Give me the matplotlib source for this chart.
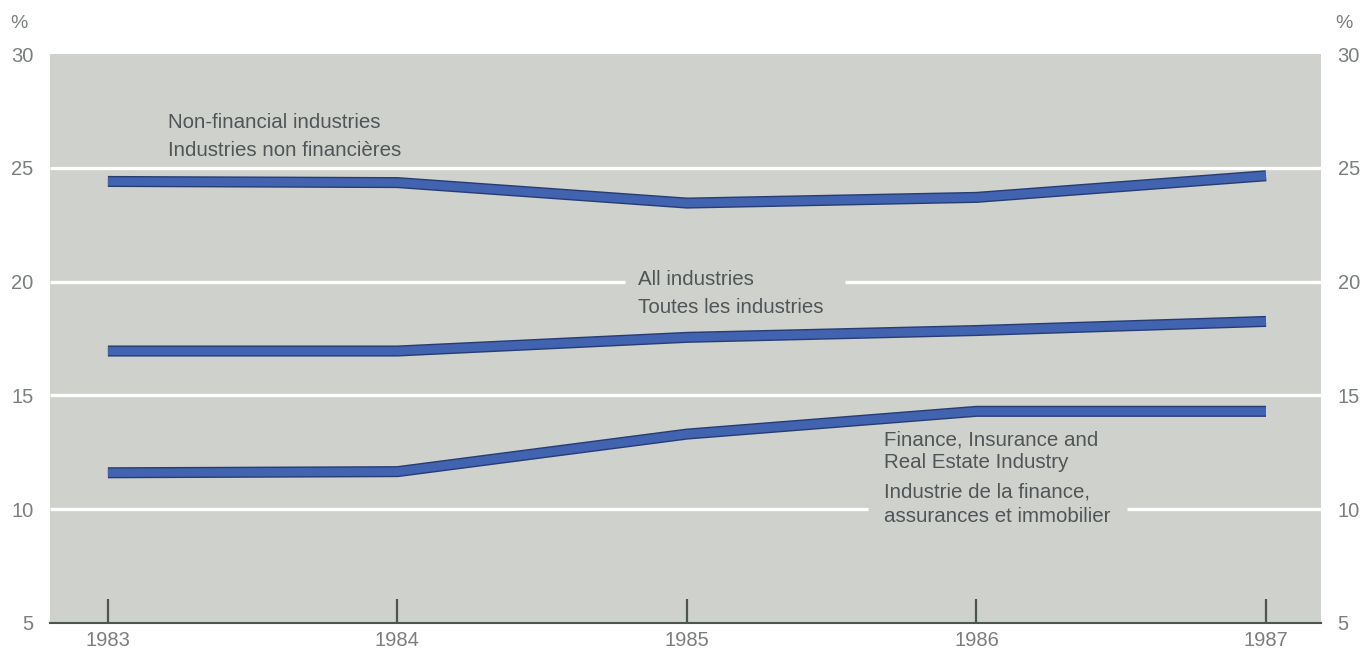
import matplotlib
matplotlib.use("Agg")
import matplotlib.pyplot as plt
import matplotlib.patheffects as pe

plt.rcParams["font.family"] = ["Liberation Sans", "DejaVu Sans"]

years = [1983, 1984, 1985, 1986, 1987]
non_financial = [24.4, 24.35, 23.45, 23.7, 24.65]
all_industries = [16.95, 16.95, 17.55, 17.85, 18.25]
finance = [11.6, 11.65, 13.3, 14.3, 14.3]
y_ticks = [5, 10, 15, 20, 25, 30]

BG = "#cfd1cc"
LINE = "#4163b0"
EDGE = "#283c74"
TXT = "#7a7e7e"
LBL = "#505558"

XMIN, XMAX = 1982.8, 1987.19

fig = plt.figure(figsize=(13.61, 6.51), dpi=100)
ax = fig.add_axes([50/1361, 1-623/651, (1321-50)/1361, (623-54)/651])
ax.set_facecolor(BG)
ax.set_xlim(XMIN, XMAX)
ax.set_ylim(5, 30)

for s in ["top", "right", "left"]:
    ax.spines[s].set_visible(False)
ax.spines["bottom"].set_color("#4d5552")
ax.spines["bottom"].set_linewidth(1.5)

# white gridlines, interrupted where labels sit
grid_segments = {
    25: [(XMIN, XMAX)],
    20: [(XMIN, 1984.786), (1985.546, XMAX)],
    15: [(XMIN, XMAX)],
    10: [(XMIN, 1985.625), (1986.520, XMAX)],
}
for v, segs in grid_segments.items():
    for a, b in segs:
        ax.hlines(v, a, b, color="white", lw=2.4, zorder=1)

ax.set_yticks(y_ticks)
ax.set_yticklabels([str(v) for v in y_ticks])
ax.tick_params(axis="y", length=0, labelsize=14.5, labelcolor=TXT, pad=12,
               labelleft=True, labelright=True)
ax.set_xticks(years)
ax.set_xticklabels([str(y) for y in years])
ax.tick_params(axis="x", direction="in", length=17, width=1.6, color="#4d5552",
               labelsize=14.5, labelcolor=TXT, pad=6)

for series in [non_financial, all_industries, finance]:
    ax.plot(years, series, color=LINE, lw=6, solid_joinstyle="round",
            solid_capstyle="butt", zorder=4,
            path_effects=[pe.Stroke(linewidth=8, foreground=EDGE), pe.Normal()])

fs = 14.8

def lab(x, y, s):
    ax.text(x, y, s, fontsize=fs, color=LBL, va="center", ha="left", zorder=3)

lab(1983.208, 27.01, "Non-financial industries")
lab(1983.208, 25.78, "Industries non financières")
lab(1984.831, 20.11, "All industries")
lab(1984.831, 18.88, "Toutes les industries")
lab(1985.681, 13.04, "Finance, Insurance and")
lab(1985.681, 12.03, "Real Estate Industry")
lab(1985.681, 10.76, "Industrie de la finance,")
lab(1985.681, 9.70, "assurances et immobilier")

fig.text(19/1361, 1-23/651, "%", fontsize=14, color=TXT, ha="center", va="center")
fig.text(1344/1361, 1-23/651, "%", fontsize=14, color=TXT, ha="center", va="center")

fig.savefig("out.png", dpi=100, facecolor="white")
